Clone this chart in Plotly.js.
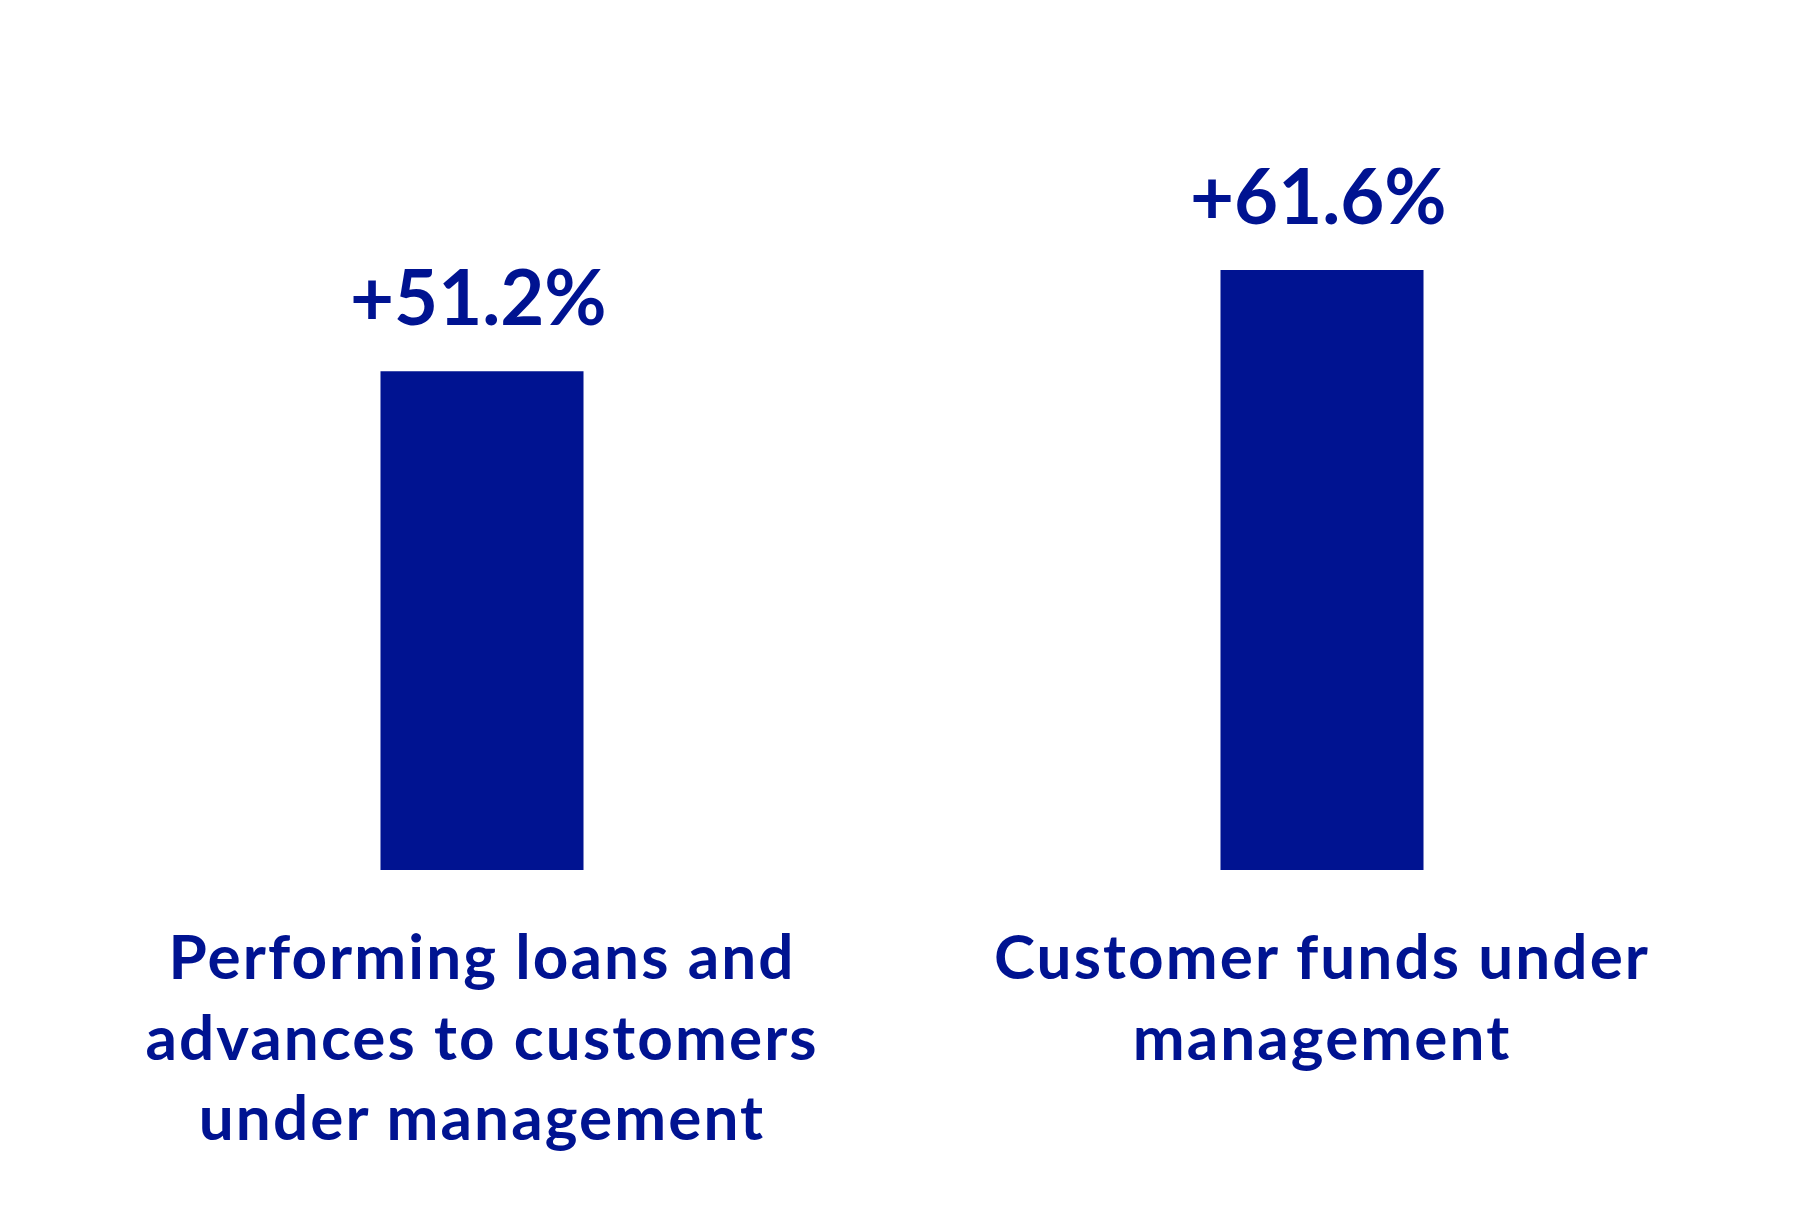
<!DOCTYPE html>
<html>
<head>
<meta charset="utf-8">
<script src="https://cdn.plot.ly/plotly-3.0.1.min.js"></script>
<style>
html,body{margin:0;padding:0;background:#fff;}
#chart{width:1800px;height:1206px;}
#chart .xtick text{letter-spacing:2.1px;}
</style>
</head>
<body>
<div id="chart"></div>
<script>
const categories = ["Performing loans and<br>advances to customers<br>under management", "Customer funds under<br>management"];
const values = [51.2, 61.6];
const valueLabels = ["+51.2%", "+61.6%"];

const BLUE = "#001391";
const FONT = "Lato, 'Open Sans', sans-serif";

const trace = {
  type: "bar",
  x: categories,
  y: values,
  marker: {color: BLUE},
  width: 0.2417,
  hoverinfo: "skip"
};

const annotations = categories.map((c, i) => ({
  x: c, y: values[i], xref: "x", yref: "y",
  text: valueLabels[i], showarrow: false,
  yanchor: "bottom", yshift: 28, xshift: -4,
  font: {family: FONT, size: 76, color: BLUE, weight: 700}
}));

const layout = {
  width: 1800, height: 1206,
  margin: {l: 62, r: 58, t: 100, b: 336},
  paper_bgcolor: "#ffffff", plot_bgcolor: "#ffffff",
  showlegend: false,
  xaxis: {
    range: [-0.5, 1.5], showgrid: false, zeroline: false, showline: false,
    ticks: "", tickfont: {family: FONT, size: 62, color: BLUE, weight: 700},
    ticklabelstandoff: 46
  },
  yaxis: {range: [0, 79.05], visible: false, showgrid: false, zeroline: false},
  annotations: annotations
};

Plotly.newPlot("chart", [trace], layout, {displayModeBar: false, staticPlot: true});
</script>
</body>
</html>
